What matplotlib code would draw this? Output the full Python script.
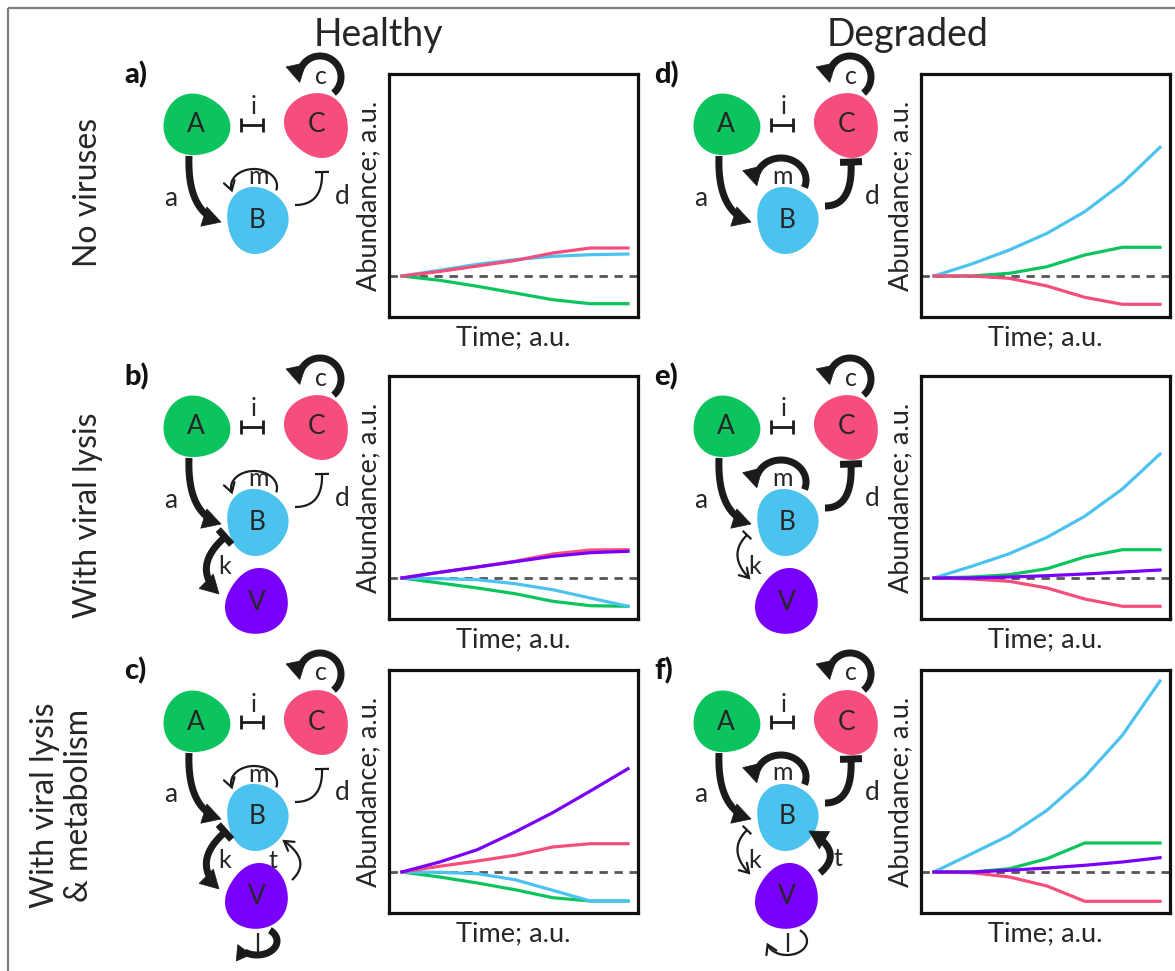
import numpy as np
import matplotlib
matplotlib.use("Agg")
import matplotlib.pyplot as plt
from matplotlib.patches import Polygon, Rectangle

# ---------------- data ----------------
time_steps = [0, 1, 2, 3, 4, 5, 6]

# a) Healthy, no viruses
a_A = [0, -0.43, -1.03, -1.7, -2.37, -2.77, -2.77]
a_B = [0, 0.57, 1.17, 1.63, 1.97, 2.13, 2.2]
a_C = [0, 0.45, 1.0, 1.55, 2.3, 2.8, 2.8]
# b) Healthy, with viral lysis
b_A = [0, -0.5, -1.0, -1.57, -2.33, -2.77, -2.83]
b_B = [0, -0.07, -0.17, -0.57, -1.17, -2.0, -2.83]
b_C = [0, 0.57, 1.1, 1.67, 2.4, 2.8, 2.83]
b_V = [0, 0.57, 1.1, 1.63, 2.17, 2.53, 2.67]
# c) Healthy, with viral lysis & metabolism
c_A = [0, -0.5, -1.1, -1.77, -2.57, -2.9, -2.9]
c_B = [0, -0.03, -0.17, -0.77, -1.83, -2.9, -2.9]
c_C = [0, 0.57, 1.1, 1.67, 2.5, 2.83, 2.83]
c_V = [0, 1.0, 2.23, 4.0, 5.93, 8.1, 10.33]
# d) Degraded, no viruses
d_A = [0, 0, 0.27, 0.93, 2.1, 2.87, 2.87]
d_B = [0, 1.2, 2.6, 4.27, 6.43, 9.27, 12.87]
d_C = [0, 0, -0.23, -1.0, -2.13, -2.83, -2.83]
# e) Degraded, with viral lysis
e_A = [0, 0.1, 0.33, 0.93, 2.1, 2.83, 2.83]
e_B = [0, 1.17, 2.43, 4.07, 6.17, 8.9, 12.4]
e_C = [0, -0.1, -0.33, -1.0, -2.1, -2.83, -2.83]
e_V = [0, 0, 0.1, 0.23, 0.4, 0.6, 0.8]
# f) Degraded, with viral lysis & metabolism
f_A = [0, 0, 0.33, 1.33, 2.9, 2.9, 2.9]
f_B = [0, 1.83, 3.67, 6.17, 9.5, 13.67, 19.1]
f_C = [0, -0.07, -0.5, -1.4, -2.93, -2.93, -2.93]
f_V = [0, 0, 0.17, 0.4, 0.67, 1.0, 1.43]

column_titles = ["Healthy", "Degraded"]
row_titles = ["No viruses", "With viral lysis", "With viral lysis\n& metabolism"]
panel_letters = ["a)", "b)", "c)", "d)", "e)", "f)"]
xlabel_text = "Time; a.u."
ylabel_text = "Abundance; a.u."

GREEN = "#0BC45E"
PINK = "#F54E7D"
BLUE = "#4CC3EE"
PURPLE = "#7800FA"
INK = "#1b1b1b"
TXT = "#262626"

FONT = ["Lato", "DejaVu Sans"]
plt.rcParams['font.family'] = FONT

W, H = 1175, 971
fig = plt.figure(figsize=(W / 100, H / 100), dpi=100)
ov = fig.add_axes([0, 0, 1, 1])
ov.set_xlim(0, W)
ov.set_ylim(H, 0)
ov.axis('off')

# outer border
ov.add_patch(Rectangle((8, 8), 1200, 1000, fill=False, ec="#808080", lw=1.6))

PX = 0.72  # px -> points


# ---------------- diagram helpers ----------------
def blob(cx, cy, color, seed):
    t = np.linspace(0, 2 * np.pi, 200)
    ph = [0.3, 1.7, 2.9, 4.1][seed]
    r = 32 * (1 + 0.045 * np.cos(2 * t + ph) + 0.035 * np.cos(3 * t + 2 * ph))
    x = cx + r * np.cos(t)
    y = cy - r * np.sin(t)
    ov.add_patch(Polygon(np.c_[x, y], closed=True, fc=color, ec='none', zorder=2))


def trim_end(x, y, d):
    seg = np.hypot(np.diff(x), np.diff(y))
    cum = np.concatenate([[0], np.cumsum(seg)])
    keep = cum <= cum[-1] - d
    return x[keep], y[keep]


def draw_path(x, y, lw, head=None, tail=None, barlen=None, hs=1.0):
    x = np.asarray(x, float)
    y = np.asarray(y, float)
    k = min(3, len(x) - 1)
    ex, ey = x[-1], y[-1]
    dx, dy = x[-1] - x[-1 - k], y[-1] - y[-1 - k]
    n = np.hypot(dx, dy)
    ux, uy = dx / n, dy / n
    px, py = -uy, ux
    lx, ly = x, y
    if head == 'arrow':
        if lw >= 4:
            L = (2.0 * lw + 4) * hs
            Wd = (2.6 * lw + 2) * hs
            lx, ly = trim_end(x, y, L * 0.7)
            tri = [(ex, ey),
                   (ex - L * ux + Wd / 2 * px, ey - L * uy + Wd / 2 * py),
                   (ex - L * ux - Wd / 2 * px, ey - L * uy - Wd / 2 * py)]
            ov.add_patch(Polygon(tri, closed=True, fc=INK, ec=INK, lw=0.5, zorder=5))
        else:
            L = 9 * hs
            Wd = 11 * hs
            ov.plot([ex - L * ux + Wd / 2 * px, ex, ex - L * ux - Wd / 2 * px],
                    [ey - L * uy + Wd / 2 * py, ey, ey - L * uy - Wd / 2 * py],
                    color=INK, lw=lw * PX, solid_capstyle='round',
                    solid_joinstyle='miter', zorder=5)
    elif head == 'bar':
        b = barlen if barlen else (14 if lw < 4 else 22)
        ov.plot([ex + b / 2 * px, ex - b / 2 * px], [ey + b / 2 * py, ey - b / 2 * py],
                color=INK, lw=lw * PX, solid_capstyle='butt', zorder=5)
    if tail == 'bar':
        sx, sy = x[0], y[0]
        dx, dy = x[k] - x[0], y[k] - y[0]
        n = np.hypot(dx, dy)
        vx, vy = -dy / n, dx / n
        b = barlen if barlen else (14 if lw < 4 else 22)
        ov.plot([sx + b / 2 * vx, sx - b / 2 * vx], [sy + b / 2 * vy, sy - b / 2 * vy],
                color=INK, lw=lw * PX, solid_capstyle='butt', zorder=5)
    ov.plot(lx, ly, color=INK, lw=lw * PX, solid_capstyle='butt', zorder=4)


def ell(cx, cy, rx, ry, t1, t2):
    t = np.radians(np.linspace(t1, t2, 120))
    return cx + rx * np.cos(t), cy - ry * np.sin(t)


def bez(p0, c, p2):
    t = np.linspace(0, 1, 120)[:, None]
    p0, c, p2 = map(np.asarray, (p0, c, p2))
    p = (1 - t) ** 2 * p0 + 2 * (1 - t) * t * c + t ** 2 * p2
    return p[:, 0], p[:, 1]


def label(x, y, s, size=18):
    ov.text(x, y, s, ha='center', va='center', fontsize=size, color=TXT, zorder=6)


THICK, THIN = 7.0, 2.2


def diagram(bx, by, degraded, virus, metab):
    # nodes
    blob(bx - 61, by - 95, GREEN, 0)
    blob(bx + 60, by - 95, PINK, 1)
    blob(bx, by, BLUE, 2)
    label(bx - 61, by - 95, "A", 19)
    label(bx + 60, by - 95, "C", 19)
    label(bx, by, "B", 19)
    if virus:
        blob(bx, by + 80, PURPLE, 3)
        label(bx, by + 80, "V", 19)
    # i : inhibition between A and C
    xs = np.linspace(bx - 16, bx + 6, 10)
    draw_path(xs, np.full_like(xs, by - 95), 2.8, head='bar', tail='bar', barlen=14)
    label(bx - 3, by - 113, "i", 18)
    # c : self loop on C (thick)
    x, y = ell(bx + 63, by - 143, 21, 21, -50, 195)
    draw_path(x, y, THICK, head='arrow')
    label(bx + 64, by - 144, "c", 18)
    # a : A -> B (thick)
    x, y = bez((bx - 68, by - 64), (bx - 70, by - 8), (bx - 36, by + 2))
    draw_path(x, y, THICK, head='arrow')
    label(bx - 86, by - 22, "a", 19)
    # m : self loop on B
    if degraded:
        x, y = ell(bx - 6, by - 40, 25, 22, -20, 195)
        draw_path(x, y, THICK, head='arrow')
        label(bx - 4, by - 44, "m", 18)
    else:
        x, y = ell(bx - 3, by - 34, 23, 17, -15, 195)
        draw_path(x, y, THIN, head='arrow')
        label(bx + 1, by - 43, "m", 18)
    # d : B -| C
    if degraded:
        x, y = bez((bx + 38, by - 14), (bx + 66, by - 14), (bx + 64, by - 58))
        draw_path(x, y, THICK, head='bar', barlen=22)
    else:
        x, y = bez((bx + 38, by - 15), (bx + 66, by - 15), (bx + 65, by - 48))
        draw_path(x, y, THIN, head='bar', barlen=14)
    label(bx + 85, by - 24, "d", 19)
    if virus:
        # k : V lyses B
        if degraded:
            x, y = bez((bx - 40, by + 13), (bx - 60, by + 33), (bx - 38, by + 56))
            draw_path(x, y, THIN, head='arrow', tail='bar', barlen=12)
        else:
            x, y = bez((bx - 32, by + 15), (bx - 66, by + 45), (bx - 38, by + 72))
            draw_path(x, y, THICK, head='arrow', tail='bar', barlen=20)
        label(bx - 32, by + 44, "k", 18)
    if metab:
        # t : V -> B
        if degraded:
            x, y = bez((bx + 33, by + 56), (bx + 58, by + 35), (bx + 22, by + 14))
            draw_path(x, y, THICK, head='arrow')
            label(bx + 51, by + 42, "t", 18)
        else:
            x, y = bez((bx + 35, by + 63), (bx + 55, by + 44), (bx + 27, by + 24))
            draw_path(x, y, THIN, head='arrow')
            label(bx + 16, by + 43, "t", 18)
        # l : V self loop
        x, y = ell(bx, by + 124, 20, 14, 50, -165)
        if degraded:
            draw_path(x, y, THIN, head='arrow')
        else:
            draw_path(x, y, THICK, head='arrow', hs=0.8)
        label(bx, by + 127, "l", 18)


# ---------------- layout ----------------
row_B_y = [220, 522, 817]
col_B_x = [257, 787]
plot_left = [389, 921]
plot_top = [74, 376, 670]
PW, PH = 249, 243

series = [
    [(a_A, GREEN), (a_B, BLUE), (a_C, PINK)],
    [(b_A, GREEN), (b_B, BLUE), (b_C, PINK), (b_V, PURPLE)],
    [(c_A, GREEN), (c_B, BLUE), (c_C, PINK), (c_V, PURPLE)],
    [(d_A, GREEN), (d_B, BLUE), (d_C, PINK)],
    [(e_A, GREEN), (e_B, BLUE), (e_C, PINK), (e_V, PURPLE)],
    [(f_A, GREEN), (f_B, BLUE), (f_C, PINK), (f_V, PURPLE)],
]

for col in range(2):
    for row in range(3):
        idx = col * 3 + row
        bx, by = col_B_x[col], row_B_y[row]
        diagram(bx, by, degraded=(col == 1), virus=(row >= 1), metab=(row == 2))
        ov.text(bx - 133, plot_top[row] + 1, panel_letters[idx], ha='left', va='center',
                fontsize=21, fontweight='black', color="#111111")

        left = plot_left[col]
        top = plot_top[row]
        ax = fig.add_axes([left / W, 1 - (top + PH) / H, PW / W, PH / H])
        ax.axhline(0, color="#555555", lw=2.0, ls=(0, (3, 2.4)), zorder=1)
        for vals, colr in series[idx]:
            ax.plot(time_steps, vals, color=colr, lw=2.3, zorder=3,
                    solid_joinstyle='round')
        ax.set_xlim(-0.345, 6.265)
        ax.set_ylim(-4.1, 20.2)
        ax.set_xticks([])
        ax.set_yticks([])
        for s in ax.spines.values():
            s.set_linewidth(2.3)
            s.set_color("#111111")
        ax.set_xlabel(xlabel_text, fontsize=19.5, color=TXT, va='center')
        ax.xaxis.set_label_coords(0.5, -21 / PH)
        ax.set_ylabel(ylabel_text, fontsize=19.5, color=TXT, va='center', ha='center')
        ax.yaxis.set_label_coords(-20 / PW, 0.5)

# column titles
ov.text(378, 35, column_titles[0], ha='center', va='center', fontsize=27, color=TXT)
ov.text(908, 35, column_titles[1], ha='center', va='center', fontsize=27, color=TXT)

# row titles
ov.text(88, 192, row_titles[0], rotation=90, ha='center', va='center', fontsize=23,
        color=TXT)
ov.text(88, 515, row_titles[1], rotation=90, ha='center', va='center', fontsize=23,
        color=TXT)
ov.text(62, 805, row_titles[2], rotation=90, ha='center', va='center', fontsize=23,
        color=TXT, multialignment='center', linespacing=1.15)

fig.savefig("out.png", dpi=100)
